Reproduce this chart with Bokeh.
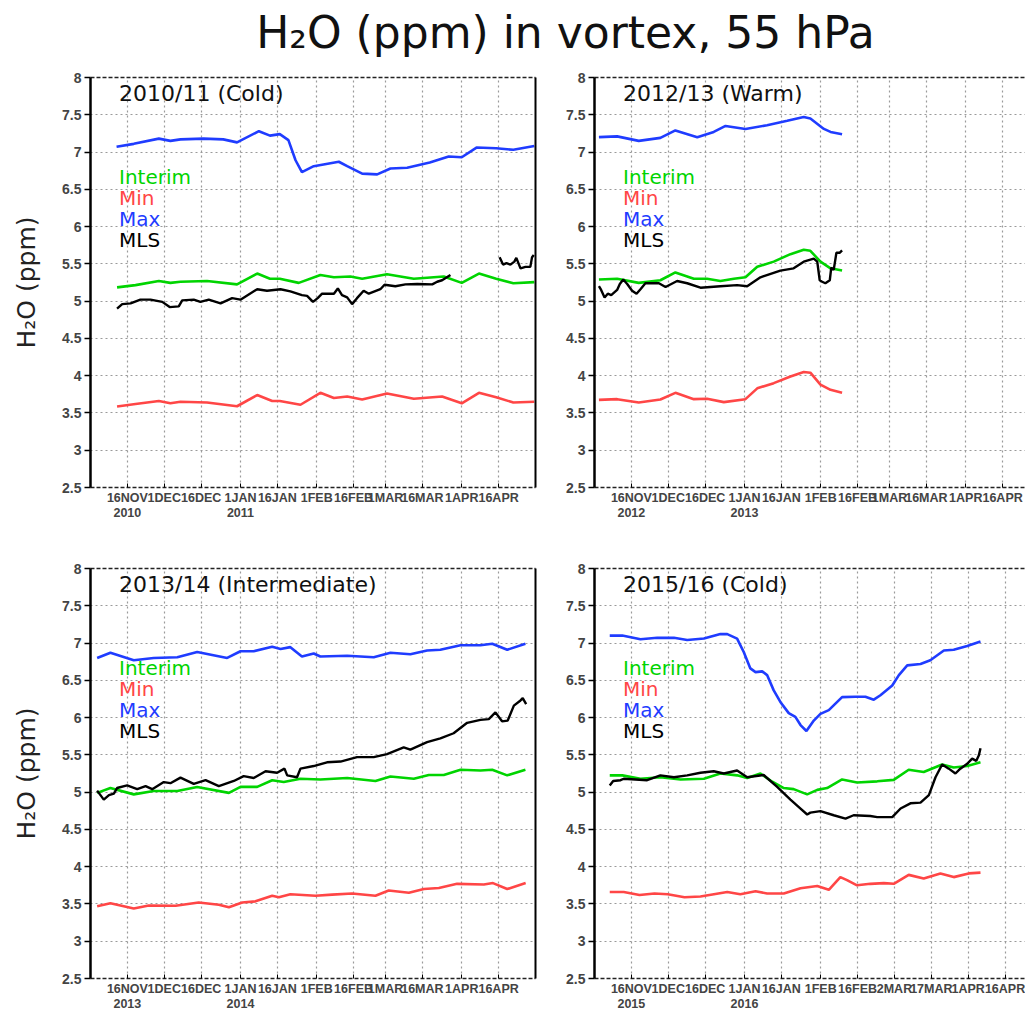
import math
from bokeh.plotting import figure
from bokeh.models import FixedTicker, LinearAxis, Range1d, Label, CustomJSTickFormatter
from bokeh.layouts import column, row
from bokeh.embed import file_html
from bokeh.resources import INLINE

# ---------------- data (x = days since 1 November) ----------------
TICK_DAYS = [15, 30, 45, 61, 76, 92, 107, 120, 135, 151, 166]
TICK_LABELS = ["16NOV", "1DEC", "16DEC", "1JAN", "16JAN", "1FEB", "16FEB", "1MAR", "16MAR", "1APR", "16APR"]
TICK_DAYS_LEAP = [15, 30, 45, 61, 76, 92, 107, 122, 137, 152, 167]
TICK_LABELS_LEAP = ["16NOV", "1DEC", "16DEC", "1JAN", "16JAN", "1FEB", "16FEB", "2MAR", "17MAR", "1APR", "16APR"]
Y_TICKS = [2.5, 3, 3.5, 4, 4.5, 5, 5.5, 6, 6.5, 7, 7.5, 8]

# Panel 1: 2010/11 (Cold)
P1_MAX_D = [10.6, 17.6, 27.8, 32.5, 36.6, 46, 54, 59.6, 68.5, 73, 77, 80.5, 83.4, 86, 90.8, 101, 104.4, 110.5, 116.6, 122, 128.8, 138, 145.7, 151, 157, 165, 172, 180.5]
P1_MAX = [7.07, 7.11, 7.18, 7.15, 7.17, 7.18, 7.17, 7.13, 7.28, 7.22, 7.24, 7.16, 6.89, 6.73, 6.81, 6.87, 6.81, 6.71, 6.70, 6.78, 6.79, 6.86, 6.94, 6.93, 7.06, 7.05, 7.03, 7.08]
P1_INT_D = [10.8, 18.3, 27.8, 32.5, 36.6, 47.4, 59.6, 67.8, 73, 77, 84.7, 93.5, 99, 105.7, 110.5, 120.6, 131.5, 143.7, 151, 158, 165, 172, 180.5]
P1_INT = [5.185, 5.215, 5.27, 5.245, 5.26, 5.27, 5.225, 5.37, 5.30, 5.30, 5.245, 5.35, 5.32, 5.33, 5.30, 5.36, 5.30, 5.33, 5.245, 5.37, 5.30, 5.24, 5.255]
P1_MIN_D = [10.8, 18.3, 27.8, 32.5, 36.6, 47.4, 59.6, 67.8, 73.9, 77, 85.4, 93.5, 99, 104.4, 110.5, 120.6, 131.5, 143, 151, 158, 165, 172, 180.5]
P1_MIN = [3.587, 3.62, 3.66, 3.63, 3.65, 3.64, 3.59, 3.74, 3.66, 3.66, 3.61, 3.77, 3.70, 3.72, 3.68, 3.76, 3.69, 3.72, 3.63, 3.77, 3.71, 3.64, 3.65]
P1_MLS_D = [10.8, 12.9, 16.3, 20.3, 24.4, 29.2, 32.2, 35.9, 37.3, 42, 44.7, 48.1, 52.9, 57.6, 61, 67.8, 71.8, 77.3, 81.3, 86, 88.1, 90.5, 92.4, 94.2, 99, 100.6, 102.3, 104.4, 106.4, 108.4, 111.1, 113.2, 117.9, 119.6, 124, 128.1, 132.9, 139, 141, 143, 146.4,
            156.0,
            166.4, 167.8, 169.2, 170.8, 172.4, 173.2, 174.9, 176.9, 178.9, 179.6, 180.3]
P1_MLS = [4.90, 4.96, 4.97, 5.02, 5.02, 4.99, 4.92, 4.93, 5.01, 5.02, 4.99, 5.02, 4.97, 5.04, 5.02, 5.16, 5.14, 5.16, 5.13, 5.08, 5.07, 4.99, 5.04, 5.10, 5.10, 5.17, 5.08, 5.05, 4.96, 5.04, 5.14, 5.10, 5.16, 5.22, 5.20, 5.225, 5.23, 5.225, 5.26, 5.28, 5.35,
          float("nan"),
          5.59, 5.49, 5.51, 5.49, 5.53, 5.58, 5.44, 5.46, 5.46, 5.59, 5.62]

# Panel 2: 2012/13 (Warm)
P2_MAX_D = [1.8, 9.2, 18, 26.8, 32.9, 41.8, 48.5, 53.3, 61.4, 70.2, 78.4, 85.1, 87.8, 93.3, 96, 100.7]
P2_MAX = [7.20, 7.21, 7.15, 7.19, 7.29, 7.20, 7.27, 7.35, 7.31, 7.36, 7.42, 7.47, 7.45, 7.31, 7.27, 7.24]
P2_INT_D = [1.8, 9.2, 18, 26.8, 32.9, 40.4, 45.8, 51.2, 56.7, 61.4, 66.2, 72.9, 79.7, 85.1, 87.8, 91.9, 96, 100.7]
P2_INT = [5.29, 5.30, 5.245, 5.28, 5.385, 5.30, 5.30, 5.27, 5.30, 5.32, 5.46, 5.53, 5.63, 5.69, 5.675, 5.53, 5.44, 5.41]
P2_MIN_D = [1.8, 9.2, 18, 26.8, 32.9, 40.4, 45.8, 52.6, 61.4, 66.2, 72.9, 79.7, 85.1, 87.8, 91.9, 96, 100.7]
P2_MIN = [3.676, 3.685, 3.64, 3.68, 3.77, 3.685, 3.69, 3.645, 3.685, 3.83, 3.90, 3.99, 4.05, 4.04, 3.88, 3.81, 3.77]
P2_MLS_D = [1.8, 2.7, 4.1, 5.4, 6.8, 9.2, 10.3, 11.7, 13.3, 15.3, 17.1, 18.7, 20.7, 26.2, 28.9, 33.6, 37.7, 43.1, 51.2, 58, 62.1, 67.5, 75.6, 81, 85.1, 89.2, 90.6, 91.6, 92.6, 93.9, 95.7, 96.3, 97.3, 98.4, 99.8, 100.7]
P2_MLS = [5.20, 5.15, 5.05, 5.10, 5.08, 5.15, 5.23, 5.29, 5.23, 5.14, 5.10, 5.16, 5.24, 5.24, 5.19, 5.27, 5.24, 5.18, 5.20, 5.215, 5.20, 5.32, 5.41, 5.44, 5.53, 5.57, 5.53, 5.28, 5.26, 5.24, 5.28, 5.45, 5.42, 5.65, 5.65, 5.68]

# Panel 3: 2013/14 (Intermediate)
P3_MAX_D = [2.7, 8.1, 17.6, 25.7, 35.3, 43.4, 55.6, 61, 66.4, 73.9, 77.3, 81.3, 86, 90.8, 93.5, 104.4, 115.2, 122, 130.1, 136.9, 142.3, 150.5, 158.6, 163.4, 169.5, 176.9]
P3_MAX = [6.80, 6.87, 6.77, 6.80, 6.81, 6.88, 6.80, 6.89, 6.89, 6.95, 6.92, 6.945, 6.82, 6.86, 6.82, 6.83, 6.81, 6.87, 6.85, 6.90, 6.91, 6.97, 6.97, 6.99, 6.91, 6.99]
P3_INT_D = [2.7, 8.1, 17.6, 25.7, 35.3, 43.4, 56.3, 61, 67.8, 73.9, 78.6, 85.4, 93.5, 104.4, 115.9, 122, 131.5, 137.6, 143.7, 150.5, 158.6, 163.4, 169.5, 176.9]
P3_INT = [4.99, 5.055, 4.97, 5.015, 5.015, 5.07, 4.99, 5.07, 5.07, 5.16, 5.135, 5.18, 5.17, 5.19, 5.15, 5.21, 5.18, 5.23, 5.23, 5.30, 5.29, 5.30, 5.225, 5.30]
P3_MIN_D = [2.7, 8.1, 17.6, 23.7, 34.6, 44, 52.2, 56.3, 61.7, 67.1, 73.9, 76.6, 81.3, 91.5, 98.3, 106.4, 115.9, 121.3, 129.5, 135.6, 141.7, 149.1, 160, 163.7, 169.5, 177]
P3_MIN = [3.47, 3.51, 3.44, 3.48, 3.475, 3.52, 3.49, 3.455, 3.52, 3.535, 3.61, 3.59, 3.63, 3.61, 3.625, 3.64, 3.61, 3.68, 3.65, 3.70, 3.715, 3.77, 3.76, 3.78, 3.70, 3.78]
P3_MLS_D = [2.7, 5.4, 7.5, 9.5, 10.8, 14.9, 19, 22.4, 25.1, 29.8, 32.5, 36.6, 42, 46.8, 52.2, 58.3, 62.3, 66.4, 71.2, 75.9, 78.9, 80, 84, 85.4, 90.8, 96.2, 101.7, 108.4, 115.2, 120.6, 127.4, 130.1, 136.9, 142.3, 147.7, 153.2, 158.6, 162, 164.7, 167.4, 169.7, 172.2, 174.9, 175.8, 177.2]
P3_MLS = [5.02, 4.90, 4.96, 4.98, 5.055, 5.09, 5.04, 5.08, 5.04, 5.135, 5.12, 5.195, 5.11, 5.16, 5.08, 5.15, 5.215, 5.19, 5.28, 5.26, 5.315, 5.225, 5.20, 5.315, 5.35, 5.40, 5.41, 5.47, 5.47, 5.51, 5.60, 5.57, 5.67, 5.72, 5.79, 5.93, 5.97, 5.98, 6.07, 5.95, 5.96, 6.16, 6.23, 6.26, 6.18]

# Panel 4: 2015/16 (Cold)
P4_MAX_D = [6.2, 11.3, 18.7, 25.5, 32.3, 37.7, 44.5, 51.2, 54, 58, 60.7, 63.4, 65.5, 68.2, 70.2, 72.9, 75.6, 79, 81.7, 83.8, 86.2, 89.2, 91.9, 95.3, 100.7, 106.1, 110.2, 113.6, 116.3, 121.1, 123.8, 127.2, 132.6, 136.6, 142.1, 146.1, 151.6, 154.3, 157]
P4_MAX = [7.10, 7.10, 7.05, 7.07, 7.07, 7.04, 7.06, 7.12, 7.12, 7.06, 6.88, 6.66, 6.61, 6.62, 6.57, 6.365, 6.21, 6.06, 6.01, 5.90, 5.82, 5.96, 6.05, 6.10, 6.275, 6.28, 6.28, 6.24, 6.30, 6.43, 6.57, 6.70, 6.72, 6.77, 6.90, 6.91, 6.96, 6.99, 7.02]
P4_INT_D = [6.2, 11.3, 18.7, 26.8, 35, 44.5, 51.2, 58, 62.1, 67.5, 72.3, 77, 81, 86.5, 90.6, 94.6, 100.7, 106.8, 115, 121.7, 127.8, 133.9, 141.4, 146.1, 151.6, 157]
P4_INT = [5.225, 5.225, 5.18, 5.20, 5.17, 5.18, 5.25, 5.225, 5.19, 5.25, 5.14, 5.055, 5.04, 4.97, 5.03, 5.055, 5.17, 5.13, 5.145, 5.165, 5.30, 5.27, 5.37, 5.33, 5.35, 5.40]
P4_MIN_D = [6.2, 11.9, 18.3, 24.4, 29.8, 36.6, 43.1, 54, 59.3, 65.5, 70.2, 77, 83.8, 90.6, 95.3, 100, 102.7, 106.8, 112.2, 117.7, 121.7, 127.8, 133.9, 140.7, 146.1, 152.2, 157]
P4_MIN = [3.66, 3.66, 3.62, 3.64, 3.63, 3.59, 3.60, 3.66, 3.63, 3.67, 3.64, 3.64, 3.71, 3.74, 3.69, 3.86, 3.82, 3.75, 3.77, 3.78, 3.77, 3.89, 3.84, 3.91, 3.86, 3.91, 3.92]
P4_MLS_D = [6.2, 7.6, 10.6, 11.9, 21.4, 26.8, 32.3, 37.7, 43.1, 48.5, 52.6, 58, 62.1, 68.8, 74.3, 79.7, 83.8, 86.5, 87.8, 91.9, 97.3, 102.1, 105.4, 112.2, 115, 121.1, 124.5, 128.5, 132.6, 136, 138.7, 141.4, 144.1, 146.8, 148.8, 151.6, 153.6, 155.3, 156.3, 157]
P4_MLS = [5.09, 5.15, 5.16, 5.18, 5.16, 5.225, 5.20, 5.225, 5.26, 5.28, 5.25, 5.29, 5.20, 5.23, 5.07, 4.90, 4.78, 4.70, 4.725, 4.745, 4.69, 4.645, 4.69, 4.68, 4.665, 4.665, 4.78, 4.85, 4.86, 4.96, 5.20, 5.37, 5.315, 5.25, 5.315, 5.38, 5.45, 5.42, 5.49, 5.59]

PANEL_TITLES = ["2010/11 (Cold)", "2012/13 (Warm)", "2013/14 (Intermediate)", "2015/16 (Cold)"]
YEARS = [("2010", "2011"), ("2012", "2013"), ("2013", "2014"), ("2015", "2016")]
LEGEND_NAMES = ["Interim", "Min", "Max", "MLS"]

# ---------------- style ----------------
GREEN = "#00d400"
RED = "#ff4646"
BLUE = "#1f3cff"
BLACK = "#000000"
COLORS = [GREEN, RED, BLUE, BLACK]
TICK_FONT = "Liberation Sans"
TEXT_FONT = "DejaVu Sans"
PX_PER_DAY = 445.0 / 181.0


def make_panel(series, title, years, ticks, labels, left, right, fw, bottom, ylabel, right_axis):
    xend = fw / PX_PER_DAY
    p = figure(frame_width=fw, frame_height=410,
               x_range=Range1d(0, xend), y_range=Range1d(2.5, 8),
               min_border_left=left, min_border_right=right,
               min_border_top=15, min_border_bottom=bottom,
               output_backend="svg", toolbar_location=None,
               background_fill_color="white", border_fill_color="white")
    p.outline_line_color = None

    overrides = {d: l for d, l in zip(ticks, labels)}
    overrides[ticks[0]] = labels[0] + "\n" + years[0]
    overrides[ticks[3]] = labels[3] + "\n" + years[1]

    xa = p.xaxis[0]
    xa.ticker = FixedTicker(ticks=ticks)
    xa.major_label_overrides = overrides
    xa.major_label_text_font = TICK_FONT
    xa.major_label_text_font_style = "bold"
    xa.major_label_text_font_size = "12.5px"
    xa.major_label_text_line_height = 1.1
    xa.major_label_standoff = 3
    xa.major_tick_in = 4
    xa.major_tick_out = 0
    xa.minor_tick_line_color = None
    xa.axis_line_dash = "4 2"
    xa.axis_line_color = "#222222"
    xa.axis_line_width = 1.5

    ya = p.yaxis[0]
    ya.ticker = FixedTicker(ticks=Y_TICKS)
    ya.formatter = CustomJSTickFormatter(code="return String(tick);")
    ya.major_label_text_font = TICK_FONT
    ya.major_label_text_font_style = "bold"
    ya.major_label_text_font_size = "14px"
    ya.major_label_standoff = 3
    ya.major_tick_out = 6
    ya.major_tick_in = 0
    ya.major_tick_line_width = 1.5
    ya.minor_tick_line_color = None
    ya.axis_line_width = 2.5
    if ylabel:
        ya.axis_label = "H\u2082O (ppm)"
        ya.axis_label_text_font = TEXT_FONT
        ya.axis_label_text_font_style = "normal"
        ya.axis_label_text_font_size = "25px"
        ya.axis_label_text_color = "#222222"
        ya.axis_label_standoff = 18

    top = LinearAxis(ticker=FixedTicker(ticks=[]), axis_line_dash="4 2",
                     axis_line_color="#222222", axis_line_width=1.5,
                     major_tick_line_color=None, minor_tick_line_color=None,
                     major_label_text_font_size="0px")
    p.add_layout(top, "above")
    if right_axis:
        ra = LinearAxis(ticker=FixedTicker(ticks=[]), axis_line_color="black",
                        axis_line_width=2, major_tick_line_color=None,
                        minor_tick_line_color=None, major_label_text_font_size="0px")
        p.add_layout(ra, "right")

    for g in (p.xgrid[0], p.ygrid[0]):
        g.grid_line_color = "#9a9a9a"
        g.grid_line_dash = "2 3"
        g.grid_line_width = 1.2
    p.ygrid[0].ticker = FixedTicker(ticks=Y_TICKS)

    # draw order: Max, Interim, Min, MLS
    (id_, iv), (nd, nv), (xd, xv), (md, mv) = series
    p.line(xd, xv, line_color=BLUE, line_width=2.6)
    p.line(id_, iv, line_color=GREEN, line_width=2.6)
    p.line(nd, nv, line_color=RED, line_width=2.6)
    p.line(md, mv, line_color=BLACK, line_width=2.4)

    p.add_layout(Label(x=11.6, y=7.79, text=title, text_font=TEXT_FONT,
                       text_font_size="22px", text_color="#111111",
                       text_baseline="middle", text_align="left"))
    for name, col, yy in zip(LEGEND_NAMES, COLORS, [6.66, 6.38, 6.10, 5.82]):
        p.add_layout(Label(x=11.6, y=yy, text=name, text_font=TEXT_FONT,
                           text_font_size="20px", text_color=col,
                           text_baseline="middle", text_align="left"))
    return p


s1 = [(P1_INT_D, P1_INT), (P1_MIN_D, P1_MIN), (P1_MAX_D, P1_MAX), (P1_MLS_D, P1_MLS)]
s2 = [(P2_INT_D, P2_INT), (P2_MIN_D, P2_MIN), (P2_MAX_D, P2_MAX), (P2_MLS_D, P2_MLS)]
s3 = [(P3_INT_D, P3_INT), (P3_MIN_D, P3_MIN), (P3_MAX_D, P3_MAX), (P3_MLS_D, P3_MLS)]
s4 = [(P4_INT_D, P4_INT), (P4_MIN_D, P4_MIN), (P4_MAX_D, P4_MAX), (P4_MLS_D, P4_MLS)]

p1 = make_panel(s1, PANEL_TITLES[0], YEARS[0], TICK_DAYS, TICK_LABELS, 90, 10, 445, 66, True, True)
p2 = make_panel(s2, PANEL_TITLES[1], YEARS[1], TICK_DAYS, TICK_LABELS, 49, 0, 431, 66, False, False)
p3 = make_panel(s3, PANEL_TITLES[2], YEARS[2], TICK_DAYS, TICK_LABELS, 90, 10, 445, 34, True, True)
p4 = make_panel(s4, PANEL_TITLES[3], YEARS[3], TICK_DAYS_LEAP, TICK_LABELS_LEAP, 49, 0, 431, 34, False, False)

tp = figure(width=1025, height=62, x_range=Range1d(0, 1025), y_range=Range1d(0, 62),
            output_backend="svg", toolbar_location=None, min_border=0)
tp.axis.visible = False
tp.xgrid.visible = False
tp.ygrid.visible = False
tp.outline_line_color = None
tp.add_layout(Label(x=565, y=30, text="H\u2082O (ppm) in vortex, 55 hPa",
                    text_font=TEXT_FONT, text_font_size="44px", text_color="#111111",
                    text_align="center", text_baseline="middle"))

layout = column(tp, row(p1, p2), row(p3, p4), spacing=0)
open("out.html", "w").write(file_html(layout, INLINE))
